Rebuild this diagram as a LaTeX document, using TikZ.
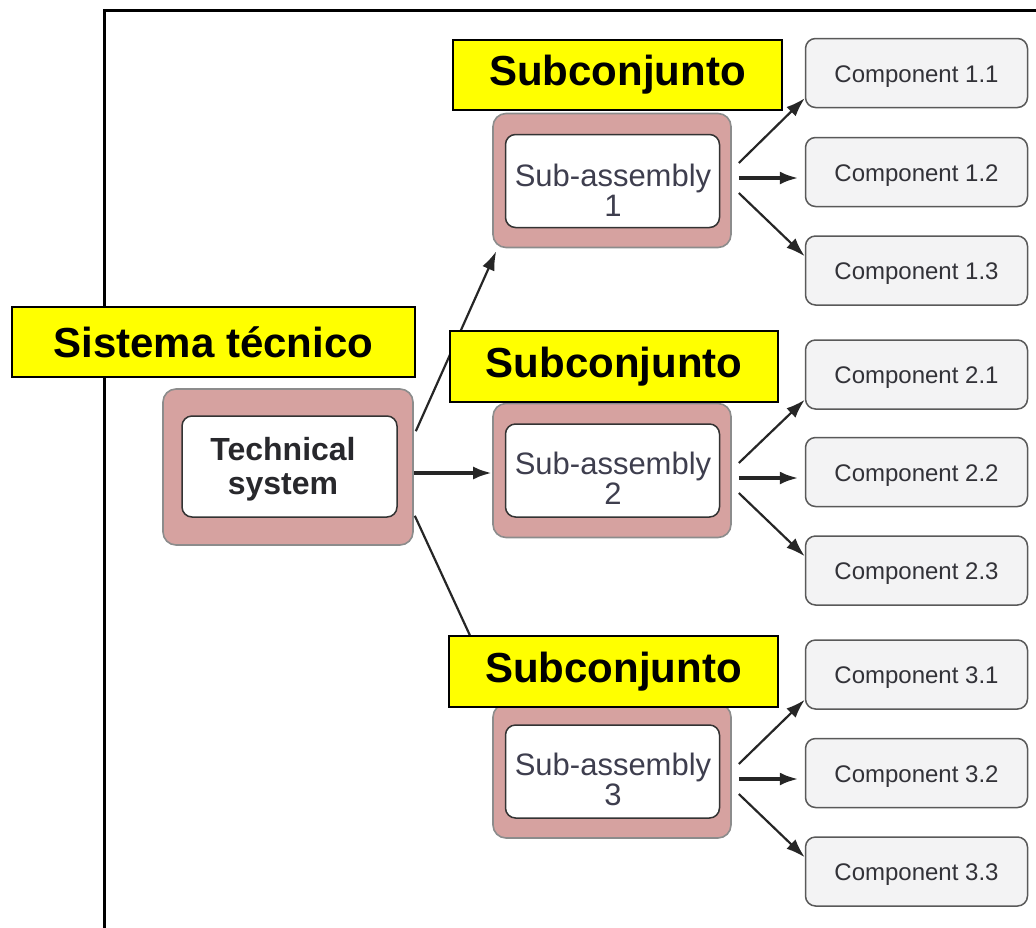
\documentclass[tikz,border=0pt]{standalone}
\usepackage{fontspec}
\setmainfont{Liberation Sans}
\usetikzlibrary{arrows.meta,calc}
\definecolor{rose}{RGB}{214,162,160}
\definecolor{labelyellow}{RGB}{255,255,0}
\definecolor{tstext}{RGB}{40,40,44}
\definecolor{satext}{RGB}{62,62,78}
\definecolor{comptext}{RGB}{50,50,56}
\definecolor{compfill}{RGB}{243,243,244}
\begin{document}
\begin{tikzpicture}[x=1pt,y=-1pt,
  outerbox/.style={draw=black!45,line width=1.6pt,fill=rose,rounded corners=13pt,
    minimum width=238pt,minimum height=134pt,inner sep=0pt},
  innerbox/.style={draw=black!80,line width=1.5pt,fill=white,rounded corners=10pt,
    minimum width=214pt,minimum height=93pt,inner sep=0pt},
  satxt/.style={align=center,inner sep=0pt,text=satext,font=\fontsize{31}{30}\selectfont},
  compbox/.style={draw=black!65,line width=1.5pt,fill=compfill,rounded corners=10pt,
    minimum width=222pt,minimum height=69pt,inner sep=0pt,text height=22pt,text depth=4pt,
    text=comptext,font=\fontsize{24}{28}\selectfont},
  tag/.style={draw=black,line width=2pt,fill=labelyellow,inner sep=0pt,
    font=\fontsize{42}{48}\bfseries\selectfont},
  link/.style={draw=black!85,line width=2.2pt,-{Latex[length=19pt,width=13pt]}},
  mainlink/.style={link,line width=3.8pt},
]
\useasboundingbox (0,0) rectangle (1036,927);

% frame around the breakdown
\draw[line width=3pt,line join=miter] (104,930) -- (104,10) -- (1040,10);

% technical system
\node[outerbox,minimum width=250pt,minimum height=156pt] (ts) at (288,467) {};
\node[innerbox,minimum width=215pt,minimum height=101pt] (tsi) at (289.5,466.5) {};
\node[align=center,inner sep=0pt,text=tstext,font=\fontsize{32}{34}\bfseries\selectfont]
  (tst) at (283,469) {Technical\\system};

% sub-assemblies
\node[outerbox] (sa1) at (612,180.5) {};
\node[innerbox] (sa1i) at (612.5,181) {};
\node[satxt] (sa1t) at (613,190) {Sub-assembly\\1};
\node[outerbox] (sa2) at (612,470.5) {};
\node[innerbox] (sa2i) at (612.5,470.5) {};
\node[satxt] (sa2t) at (613,478) {Sub-assembly\\2};
\node[outerbox] (sa3) at (612,771) {};
\node[innerbox] (sa3i) at (612.5,771.5) {};
\node[satxt] (sa3t) at (613,779) {Sub-assembly\\3};

% components
\foreach \name/\y/\txt in {c11/73/1.1, c12/172/1.2, c13/270.5/1.3,
                           c21/374.5/2.1, c22/472/2.2, c23/570.5/2.3,
                           c31/674.5/3.1, c32/773/3.2, c33/871.5/3.3}
  \node[compbox] (\name) at (916.5,\y) {Component \txt};

% system to sub-assemblies
\draw[link] ($(ts.north east)+(2,43)$) -- ($(sa1.south west)+(4,3)$);
\draw[mainlink] ($(ts.east)+(0,6)$) -- ($(sa2.west)+(0,2.5)$);
\draw[link] ($(ts.south east)+(1,-30)$) -- ($(sa3.north west)+(9,0)$);

% sub-assemblies to components
\foreach \sa/\ca/\cb/\cc in {sa1/c11/c12/c13, sa2/c21/c22/c23, sa3/c31/c32/c33}{
  \draw[link] ($(\cb.west -| \sa.east)+(7,-9)$) -- ($(\ca.south west)+(0,-10)$);
  \draw[mainlink] ($(\cb.west -| \sa.east)+(7,6)$) -- ($(\cb.west)+(-6,6)$);
  \draw[link] ($(\cb.west -| \sa.east)+(7,21)$) -- ($(\cc.north west)+(0,21)$);
}

% Spanish captions
\node[tag,minimum width=403pt,minimum height=70pt] (tag0) at (213.5,342) {Sistema técnico};
\node[tag,minimum width=329pt,minimum height=70pt] (tag1) at (617.5,75) {Subconjunto};
\node[tag,minimum width=328pt,minimum height=71pt] (tag2) at (614,366.5) {Subconjunto};
\node[tag,minimum width=329pt,minimum height=71pt] (tag3) at (613.5,671.5) {Subconjunto};
\end{tikzpicture}
\end{document}
